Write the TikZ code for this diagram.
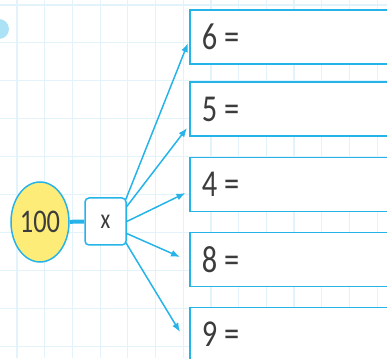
\documentclass[tikz,border=0pt]{standalone}
\usepackage{fontspec}
\setmainfont{Carlito}
\newfontfamily\schoolfont[FakeStretch=0.8]{Carlito}
\usetikzlibrary{arrows.meta,calc,shapes.geometric}
\definecolor{lineblue}{RGB}{38,180,232}
\definecolor{gridblue}{RGB}{226,243,252}
\definecolor{dotblue}{RGB}{172,226,246}
\definecolor{numyellow}{RGB}{253,237,120}
\definecolor{inkgray}{RGB}{60,60,60}
\newcommand{\sumline}[1]{\makebox[230pt][l]{#1\hspace{7pt}=}}

\begin{document}
\begin{tikzpicture}[x=1pt,y=1pt,
    answer/.style={draw=lineblue, line width=1.6pt, fill=white,
      minimum height=54pt, inner xsep=12pt, inner ysep=0pt,
      anchor=west, text=inkgray, font=\schoolfont\fontsize{38}{40}\selectfont},
    link/.style={draw=lineblue, line width=1.5pt, -{Latex[length=9pt,width=7pt]}}]
  \clip (0,0) rectangle (387,358);
  % squared paper
  \foreach \i in {0,...,13}
    \draw[gridblue, line width=1.2pt] (17+27.7*\i,0) -- (17+27.7*\i,358);
  \foreach \j in {0,...,9}
    \draw[gridblue, line width=1.2pt] (0,353-37.9*\j) -- (387,353-37.9*\j);
  \fill[dotblue] (-1,329) circle (10);

  \node (hundred) [ellipse, draw=lineblue, line width=1.5pt, fill=numyellow,
                   minimum width=58pt, minimum height=80pt, inner sep=0pt,
                   text=inkgray, font=\schoolfont\fontsize{33}{35}\selectfont]
                  at (40,136)  {100};
  \node (times)   [draw=lineblue, line width=1.5pt, fill=white, rounded corners=4pt,
                   minimum width=41pt, minimum height=47pt, inner sep=0pt,
                   text=inkgray, font=\schoolfont\fontsize{28}{30}\selectfont]
                  at (105.5,136.5) {x};

  \node (b6) [answer] at (189,321)   {\sumline{6}};
  \node (b5) [answer] at (189,249)   {\sumline{5}};
  \node (b4) [answer] at (189,173.5) {\sumline{4}};
  \node (b8) [answer] at (189,98.5)  {\sumline{8}};
  \node (b9) [answer] at (189,23.5)  {\sumline{9}};

  \draw[lineblue, line width=4pt] (hundred) -- (times);

  \draw[link] ($(times.east)+(-1,22)$)  -- ($(b6.west)+(-1,-6)$);
  \draw[link] ($(times.east)+(0,15)$)   -- ($(b5.west)+(-2,-19)$);
  \draw[link] ($(times.east)+(0,0)$)    -- ($(b4.west)+(-3.5,-8.5)$);
  \draw[link] ($(times.east)+(0,-12)$)  -- ($(b8.west)+(-9,2.5)$);
  \draw[link] ($(times.east)+(-1,-21)$) -- ($(b9.west)+(-9,2.5)$);
\end{tikzpicture}
\end{document}
